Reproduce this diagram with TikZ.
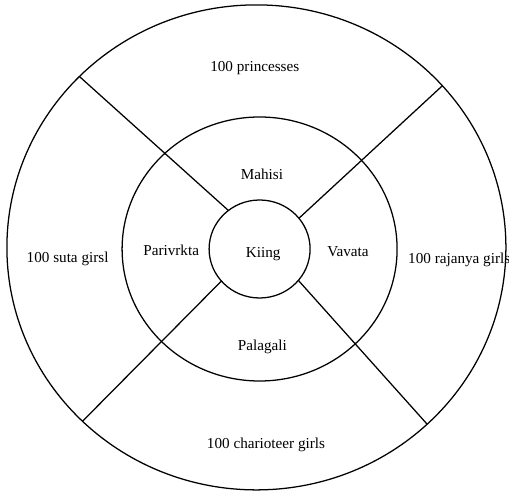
\documentclass[tikz,border=0pt]{standalone}
\usepackage{fontspec}
\setmainfont{Liberation Serif}
\usetikzlibrary{shapes.geometric}

\begin{document}
\begin{tikzpicture}[every node/.style={font=\fontsize{10.8}{13}\selectfont},
  ring/.style={draw,ellipse,line width=0.9pt,inner sep=0pt,outer sep=0pt},
  spoke/.style={line width=0.9pt}]
  \useasboundingbox (0,0) rectangle (12.725,12.325);
  % rings: outer, middle, king
  \node[ring,minimum width=12.475cm,minimum height=12.125cm] (outer) at (6.41,6.14) {};
  \node[ring,minimum width=6.875cm,minimum height=6.6cm] (middle) at (6.49,6.1) {};
  \node[ring,minimum width=2.525cm,minimum height=2.45cm] (inner) at (6.49,6.1) {};
  % spokes from the king's ring to the outer ring
  \foreach \a/\b in {129.5/136.6, 38.7/41.1, 220/225.2, 321.7/314.8}
    \draw[spoke] (inner.\a) -- (outer.\b);
  % inner quarters
  \node[anchor=base] (king) at (6.58,5.89) {Kiing};
  \node[anchor=base] (mahisi) at (6.55,7.84) {Mahisi};
  \node[anchor=base] (parivrkta) at (4.28,5.93) {Parivrkta};
  \node[anchor=base] (vavata) at (8.70,5.91) {Vavata};
  \node[anchor=base] (palagali) at (6.56,3.56) {Palagali};
  % outer quarters
  \node[anchor=base] (princesses) at (6.37,10.53) {100 princesses};
  \node[anchor=base] (suta) at (1.69,5.77) {100 suta girsl};
  \node[anchor=base] (rajanya) at (11.48,5.74) {100 rajanya girls};
  \node[anchor=base] (charioteer) at (6.65,1.10) {100 charioteer girls};
\end{tikzpicture}
\end{document}
